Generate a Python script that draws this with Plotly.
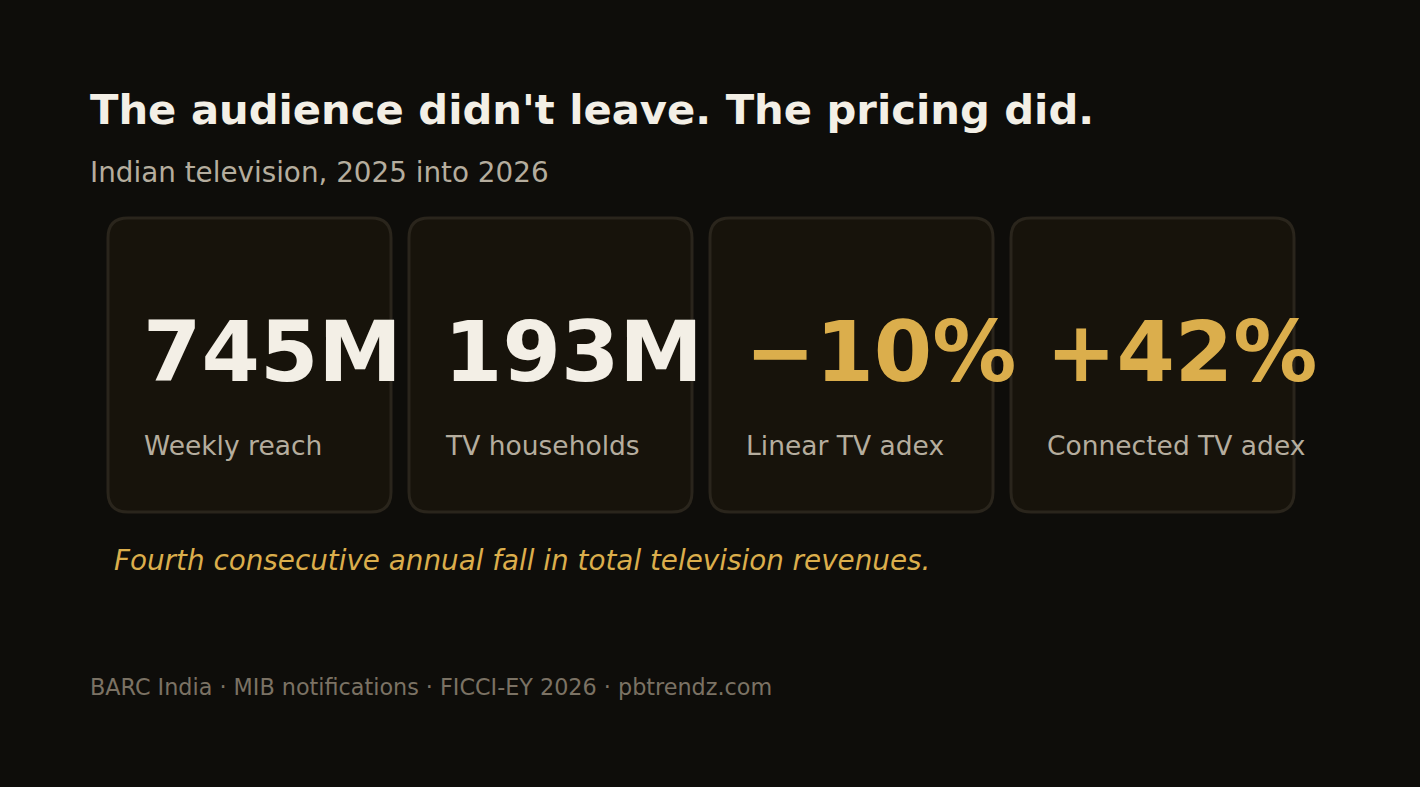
"""
KPI card strip: Indian television audience vs. pricing, 2025 into 2026.
"""

import plotly.graph_objects as go

# Card content
values = ["745M", "193M", "\u221210%", "+42%"]
labels = ["Weekly reach", "TV households", "Linear TV adex", "Connected TV adex"]
is_pct = [False, False, True, True]

title = "The audience didn't leave. The pricing did."
subtitle = "Indian television, 2025 into 2026"
note = "Fourth consecutive annual fall in total television revenues."
source = "BARC India \u00b7 MIB notifications \u00b7 FICCI-EY 2026 \u00b7 pbtrendz.com"

# Palette
BG = "#0e0d0a"
CARD_FILL = "#17130b"
CARD_LINE = "#2a251c"
CREAM = "#f3efe6"
GOLD = "#dbae4c"
MUTED = "#b5ad9e"
FOOT = "#7b7264"
FONT = "DejaVu Sans"

W, H = 1420, 787
CARD_X0, CARD_W, CARD_GAP = 108, 283, 18
CARD_Y0, CARD_Y1 = 218, 512
RADIUS = 20
NUM_PAD = 33
LABEL_PAD = 34


def rounded_rect(x0, y0, x1, y1, r):
    # y axis is reversed, so y0 is the top edge
    return (
        f"M {x0 + r},{y0} L {x1 - r},{y0} Q {x1},{y0} {x1},{y0 + r} "
        f"L {x1},{y1 - r} Q {x1},{y1} {x1 - r},{y1} "
        f"L {x0 + r},{y1} Q {x0},{y1} {x0},{y1 - r} "
        f"L {x0},{y0 + r} Q {x0},{y0} {x0 + r},{y0} Z"
    )


fig = go.Figure()
# invisible trace just to keep the axes alive
fig.add_trace(go.Scatter(x=[0, W], y=[0, H], mode="markers",
                         marker=dict(opacity=0), hoverinfo="skip", showlegend=False))

shapes = []
annotations = []

for i, (val, lab, pct) in enumerate(zip(values, labels, is_pct)):
    x0 = CARD_X0 + i * (CARD_W + CARD_GAP)
    x1 = x0 + CARD_W
    shapes.append(dict(
        type="path", xref="x", yref="y",
        path=rounded_rect(x0, CARD_Y0, x1, CARD_Y1, RADIUS),
        fillcolor=CARD_FILL, line=dict(color=CARD_LINE, width=3),
        layer="below",
    ))
    annotations.append(dict(
        x=x0 + NUM_PAD, y=352, xref="x", yref="y", xanchor="left", yanchor="middle",
        text=f"<b>{val}</b>", showarrow=False,
        font=dict(family=FONT, size=84, color=GOLD if pct else CREAM),
    ))
    annotations.append(dict(
        x=x0 + LABEL_PAD, y=445, xref="x", yref="y", xanchor="left", yanchor="middle",
        text=lab, showarrow=False,
        font=dict(family=FONT, size=26.5, color=MUTED),
    ))

# Headline block
annotations.append(dict(
    x=88, y=109, xref="x", yref="y", xanchor="left", yanchor="middle",
    text=f"<b>{title}</b>", showarrow=False,
    font=dict(family=FONT, size=41.7, color=CREAM),
))
annotations.append(dict(
    x=88, y=172, xref="x", yref="y", xanchor="left", yanchor="middle",
    text=subtitle, showarrow=False,
    font=dict(family=FONT, size=27.8, color=MUTED),
))
annotations.append(dict(
    x=112, y=560, xref="x", yref="y", xanchor="left", yanchor="middle",
    text=f"<i>{note}</i>", showarrow=False,
    font=dict(family=FONT, size=27.8, color=GOLD),
))
annotations.append(dict(
    x=88, y=687, xref="x", yref="y", xanchor="left", yanchor="middle",
    text=source, showarrow=False,
    font=dict(family=FONT, size=22.3, color=FOOT),
))

fig.update_layout(
    width=W, height=H,
    paper_bgcolor=BG, plot_bgcolor=BG,
    margin=dict(l=0, r=0, t=0, b=0),
    xaxis=dict(range=[0, W], visible=False, fixedrange=True),
    yaxis=dict(range=[H, 0], visible=False, fixedrange=True),
    shapes=shapes,
    annotations=annotations,
    showlegend=False,
)

# drop the default 8px page margin so the figure fills the window
fig.write_html(
    "out.html",
    config={"displayModeBar": False},
    post_script=f"document.body.style.margin='0';document.body.style.background='{BG}';",
)
